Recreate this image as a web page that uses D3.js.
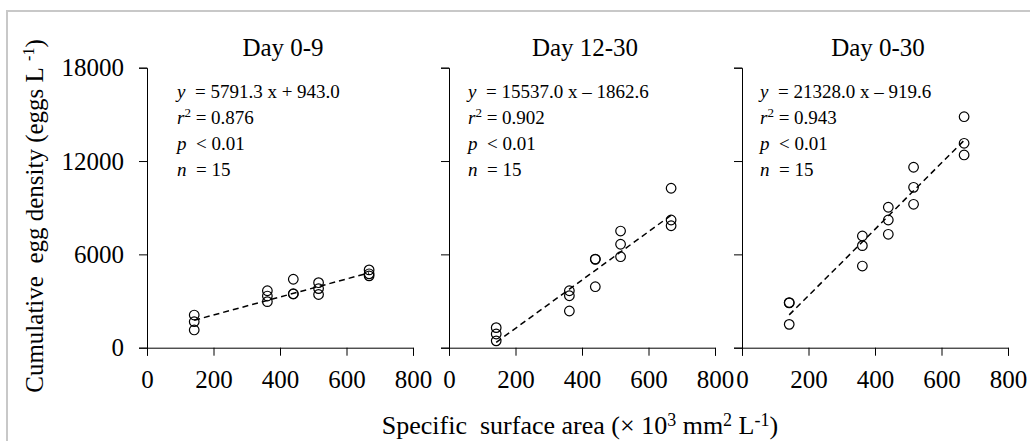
<!DOCTYPE html>
<html>
<head>
<meta charset="utf-8">
<script src="https://cdn.jsdelivr.net/npm/d3@7"></script>
<style>
  body { margin: 0; background: #fff; }
  svg text { font-family: "Liberation Serif", "Times New Roman", serif; fill: #000; }
</style>
</head>
<body>
<svg id="chart" width="1030" height="441" font-family="Liberation Serif"></svg>
<script>
// surface area levels (x 10^3 mm2 L-1)
var surface = [142, 362, 440, 516, 668];

// cumulative egg density, three replicates at each surface level
var day0to9 = [
    [2100, 1670, 1140],
    [3660, 3320, 2960],
    [4400, 3450, 3470],
    [4180, 3800, 3420],
    [5000, 4750, 4620]
];
var day12to30 = [
    [1290, 880, 440],
    [3660, 3340, 2360],
    [5700, 3920, 5680],
    [7500, 6650, 5850],
    [10250, 8210, 7840]
];
var day0to30 = [
    [2900, 2880, 1500],
    [7180, 6560, 5250],
    [9030, 8210, 7290],
    [11600, 10310, 9220],
    [14850, 13140, 12390]
];

var titles = ['Day 0-9', 'Day 12-30', 'Day 0-30'];
var slopes = [5791.3, 15537.0, 21328.0];
var intercepts = [943.0, -1862.6, -919.6];
var eqText = [' = 5791.3 x + 943.0', ' = 15537.0 x \u2013 1862.6', ' = 21328.0 x \u2013 919.6'];
var r2Text = ['0.876', '0.902', '0.943'];

var xTicks = [0, 200, 400, 600, 800];
var yTicks = [0, 6000, 12000, 18000];

var series = [day0to9, day12to30, day0to30];

var svg = d3.select('#chart');

// light grey frame round the figure
svg.append('rect')
    .attr('x', 7).attr('y', 11)
    .attr('width', 1200).attr('height', 600)
    .attr('fill', 'none')
    .attr('stroke', '#c8c8c8')
    .attr('stroke-width', 2);

var panelLeft = [147, 449, 742];
var panelWidth = 266;
var plotTop = 67.7, plotBottom = 347.7;
var noteDx = [30, 19, 18];

var y = d3.scaleLinear().domain([0, 18000]).range([plotBottom, plotTop]);

series.forEach(function(data, i) {
    var x = d3.scaleLinear().domain([0, 800]).range([panelLeft[i], panelLeft[i] + panelWidth]);

    var yAxis = d3.axisLeft(y).tickValues(yTicks).tickSize(8).tickPadding(15)
        .tickFormat(i === 0 ? d3.format('d') : function() { return ''; });
    var gy = svg.append('g')
        .attr('transform', 'translate(' + panelLeft[i] + ',0)')
        .call(yAxis);

    var xAxis = d3.axisBottom(x).tickValues(xTicks).tickSize(8).tickPadding(15)
        .tickFormat(d3.format('d'));
    var gx = svg.append('g')
        .attr('transform', 'translate(0,' + plotBottom + ')')
        .call(xAxis);

    [gx, gy].forEach(function(g) {
        g.attr('font-family', 'Liberation Serif').attr('font-size', 25);
        g.select('.domain').attr('stroke', '#000');
        g.selectAll('.tick line').attr('stroke', '#000');
        g.selectAll('.tick text').attr('fill', '#000');
    });

    // title
    svg.append('text')
        .attr('x', panelLeft[i] + panelWidth / 2 + 3)
        .attr('y', 56)
        .attr('text-anchor', 'middle')
        .style('font-size', '25px')
        .text(titles[i]);

    // regression line
    var xs = d3.extent(surface);
    svg.append('line')
        .attr('x1', x(xs[0])).attr('y1', y(slopes[i] * xs[0] / 1000 + intercepts[i]))
        .attr('x2', x(xs[1])).attr('y2', y(slopes[i] * xs[1] / 1000 + intercepts[i]))
        .attr('stroke', '#000')
        .attr('stroke-width', 1.5)
        .attr('stroke-dasharray', '6,4');

    // points
    var pts = [];
    data.forEach(function(reps, j) {
        reps.forEach(function(v) { pts.push({ x: surface[j], y: v }); });
    });
    svg.append('g').selectAll('circle').data(pts).enter().append('circle')
        .attr('cx', function(d) { return x(d.x); })
        .attr('cy', function(d) { return y(d.y); })
        .attr('r', 4.8)
        .attr('fill', 'none')
        .attr('stroke', '#000')
        .attr('stroke-width', 1.2);

    // statistics note
    var nx = panelLeft[i] + noteDx[i];
    var note = svg.append('g').style('font-size', '19px');
    var t1 = note.append('text').attr('x', nx).attr('y', 98);
    t1.append('tspan').style('font-style', 'italic').text('y');
    t1.append('tspan').text('\u00a0' + eqText[i]);
    var t2 = note.append('text').attr('x', nx).attr('y', 124);
    t2.append('tspan').style('font-style', 'italic').text('r');
    t2.append('tspan').attr('dy', -7).style('font-size', '13px').text('2');
    t2.append('tspan').attr('dy', 7).text(' = ' + r2Text[i]);
    var t3 = note.append('text').attr('x', nx).attr('y', 150);
    t3.append('tspan').style('font-style', 'italic').text('p');
    t3.append('tspan').text('\u00a0 < 0.01');
    var t4 = note.append('text').attr('x', nx).attr('y', 176);
    t4.append('tspan').style('font-style', 'italic').text('n');
    t4.append('tspan').text('\u00a0 = 15');
});

// y axis title
var yl = svg.append('text')
    .attr('transform', 'translate(43,216) rotate(-90)')
    .attr('text-anchor', 'middle')
    .style('font-size', '25px');
yl.append('tspan').text('Cumulative\u00a0 egg density (eggs L\u00a0');
yl.append('tspan').attr('dy', -9).style('font-size', '16px').text('-1');
yl.append('tspan').attr('dy', 9).text(')');

// x axis title
var xl = svg.append('text')
    .attr('x', 580).attr('y', 434)
    .attr('text-anchor', 'middle')
    .style('font-size', '26px');
xl.append('tspan').text('Specific\u00a0 surface area (\u00d7 10');
xl.append('tspan').attr('dy', -8).style('font-size', '18px').text('3');
xl.append('tspan').attr('dy', 8).text(' mm');
xl.append('tspan').attr('dy', -8).style('font-size', '18px').text('2');
xl.append('tspan').attr('dy', 8).text(' L');
xl.append('tspan').attr('dy', -8).style('font-size', '18px').text('-1');
xl.append('tspan').attr('dy', 8).text(')');
</script>
</body>
</html>
